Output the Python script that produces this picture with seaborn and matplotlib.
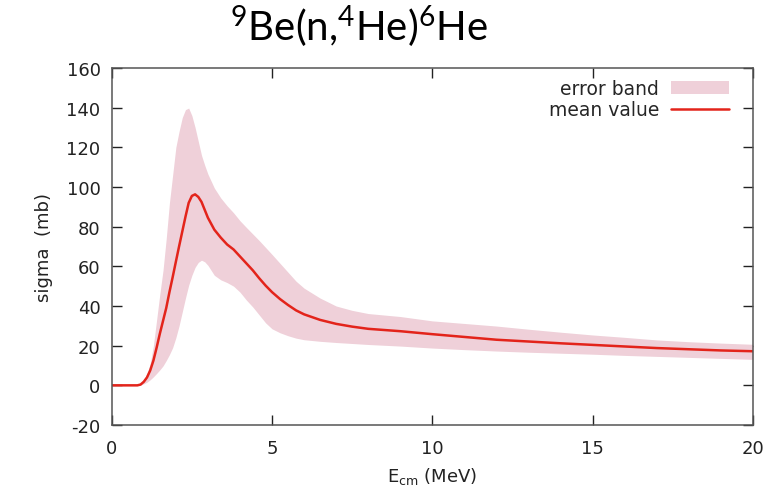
import numpy as np
import pandas as pd
import matplotlib
matplotlib.use('Agg')
import matplotlib.pyplot as plt
import seaborn as sns

# energy grid (MeV) and cross sections (mb)
energy = [0, 0.8, 0.9, 1.0, 1.1, 1.2, 1.3, 1.4, 1.5, 1.6, 1.7, 1.8, 1.9, 2.0,
          2.1, 2.2, 2.3, 2.4, 2.5, 2.6, 2.7, 2.8, 2.9, 3.0, 3.2, 3.4, 3.6, 3.8,
          4.0, 4.2, 4.4, 4.6, 4.8, 5.0, 5.25, 5.5, 5.75, 6.0, 6.5, 7.0, 7.5, 8.0,
          9.0, 10, 11, 12, 13, 14, 15, 16, 17, 18, 19, 20]
mean_value = [0, 0, 0.4, 1.8, 4.0, 7.5, 12.5, 19, 26, 32.5, 39, 47, 54.5, 62.3,
              70, 77.5, 85, 92, 95.5, 96.3, 95, 92.5, 88.5, 84.5, 78.5, 74.5, 71, 68.5,
              65, 61.5, 58, 54, 50.3, 47, 43.5, 40.5, 37.8, 35.8, 33, 31, 29.6, 28.5,
              27.3, 25.8, 24.4, 23.0, 22.1, 21.2, 20.4, 19.6, 18.8, 18.2, 17.6, 17.2]
band_upper = [0, 0, 0.5, 2.5, 6, 11, 20, 33, 46, 58, 74, 92, 106, 120,
              128, 135, 139, 139.8, 136, 130, 123, 116, 111, 106.5, 99.5, 94.5, 90.5, 87,
              83, 79.6, 76.3, 73, 69.5, 66, 61.5, 57, 52.5, 49, 44, 40, 37.8, 36.2,
              34.7, 32.5, 31.2, 29.9, 28.3, 26.8, 25.4, 24.2, 22.9, 22.0, 21.3, 20.7]
band_lower = [0, 0, 0.2, 0.8, 1.6, 2.8, 4.3, 6, 7.8, 9.8, 12.5, 15.5, 19, 24,
              30, 37, 44, 50.5, 55.5, 59.5, 62, 63.1, 62.3, 60.5, 55.5, 53.2, 51.8, 50,
              47, 43, 39.5, 35.5, 31.5, 28.5, 26.5, 25, 23.8, 23.0, 22.2, 21.6, 21.1, 20.6,
              19.8, 18.8, 18, 17.3, 16.7, 16.2, 15.7, 15.1, 14.6, 14.1, 13.6, 13.1]

x_ticks = [0, 5, 10, 15, 20]
y_ticks = [-20, 0, 20, 40, 60, 80, 100, 120, 140, 160]

df = pd.DataFrame({'E': energy, 'sigma': mean_value, 'lo': band_lower, 'hi': band_upper})

sns.set_style('ticks')
plt.rcParams['font.family'] = ['DejaVu Sans']
plt.rcParams['axes.unicode_minus'] = False
plt.rcParams['mathtext.fontset'] = 'custom'
plt.rcParams['mathtext.rm'] = 'Lato'
plt.rcParams['mathtext.it'] = 'Lato'

fig = plt.figure(figsize=(7.77, 4.89), dpi=100)
ax = fig.add_axes([0.1438, 0.1288, 0.969 - 0.1438, 0.8589 - 0.1288])

band_color = '#efd0d9'
line_color = '#e3241b'

ax.fill_between(df['E'], df['lo'], df['hi'], color=band_color, lw=0, label='error band')
sns.lineplot(data=df, x='E', y='sigma', ax=ax, color=line_color, lw=1.8, label='mean value')

ax.set_xlim(0, 20)
ax.set_ylim(-20, 160)
ax.set_xticks(x_ticks)
ax.set_yticks(y_ticks)
ax.tick_params(direction='in', length=7, width=1, colors='#222222', labelsize=13,
               top=True, right=True, pad=8)
ax.tick_params(axis='x', pad=10)
for sp in ax.spines.values():
    sp.set_color('#555555')
    sp.set_linewidth(1.1)

ax.set_xlabel(r'E$_{\rm cm}$ (MeV)', fontsize=13, color='#222222', labelpad=6,
              math_fontfamily='dejavusans')
ax.set_ylabel('sigma  (mb)', fontsize=13, color='#222222', labelpad=10)

ax.legend(loc='upper right', frameon=False, markerfirst=False, fontsize=13.5,
          handlelength=3.1, handletextpad=0.6, borderaxespad=0, labelspacing=0.1,
          bbox_to_anchor=(0.974, 0.989))

fig.text(0.462, 0.916, r'$^{9}$Be(n,$^{4}$He)$^{6}$He', fontsize=29, family='Lato',
         ha='center', va='baseline', color='black')

fig.savefig('out.png', dpi=100)
